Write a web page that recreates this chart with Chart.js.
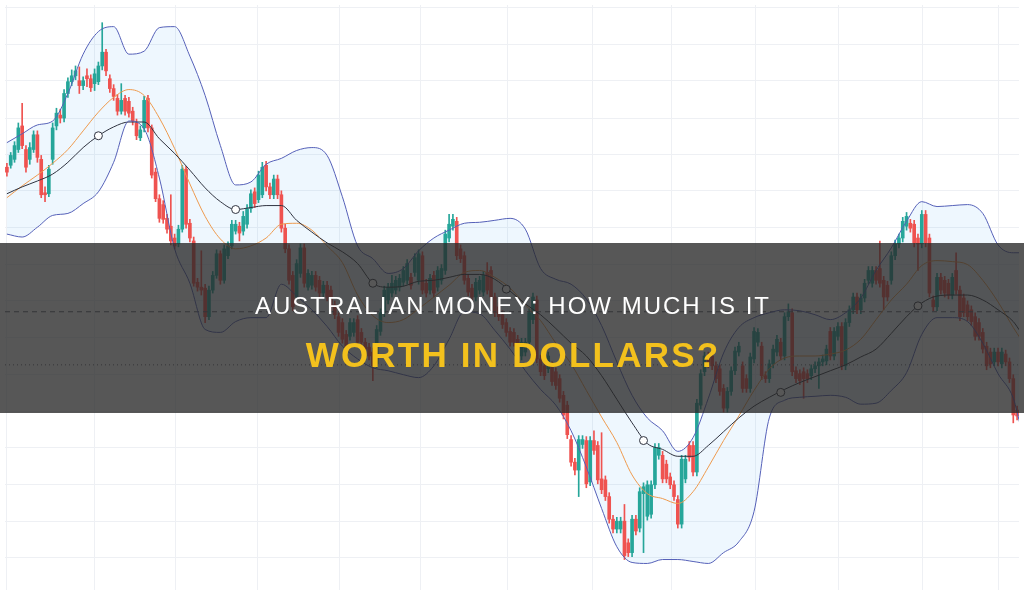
<!DOCTYPE html>
<html>
<head>
<meta charset="utf-8">
<script src="https://cdn.jsdelivr.net/npm/chart.js@4.4.1/dist/chart.umd.min.js"></script>
<style>
html,body{margin:0;padding:0;background:#fff;overflow:hidden}
#wrap{position:relative;width:1024px;height:595px}
#c{display:block}
#banner{position:absolute;left:0;top:243px;width:1024px;height:170px;background:rgba(40,40,40,0.78)}
.t{position:absolute;left:0;width:1024px;text-align:center;white-space:nowrap;font-family:"Liberation Sans",Arial,sans-serif}
#t1{top:294px;font-size:24px;line-height:24px;color:#ffffff;letter-spacing:2px;padding-left:2px;box-sizing:border-box}
#t2{top:337px;font-size:35px;line-height:35px;color:#f3c11d;font-weight:bold;letter-spacing:2.2px;padding-left:2px;box-sizing:border-box}
</style>
</head>
<body>
<div id="wrap">
<canvas id="c" width="1024" height="595"></canvas>
<div id="banner"></div>
<div class="t" id="t1">AUSTRALIAN MONEY: HOW MUCH IS IT</div>
<div class="t" id="t2">WORTH IN DOLLARS?</div>
</div>
<script>
// AUD/USD quotes in pips (x 10000), one candle per session
const open = [
7435,7437,7443,7453,7477,7453,7443,7453,7468,7443,
7409,7408,7443,7477,7488,7485,7510,7522,7528,7523,
7518,7528,7525,7520,7522,7538,7552,7525,7515,7505,
7492,7505,7502,7492,7480,7465,7475,7505,7475,7430,
7403,7397,7383,7375,7363,7357,7372,7433,7378,7360,
7318,7313,7312,7283,7310,7325,7347,7320,7345,7355,
7370,7375,7370,7377,7393,7410,7402,7407,7437,7415,
7407,7423,7407,7373,7352,7325,7303,7327,7353,7313,
7315,7325,7320,7307,7315,7310,7295,7283,7277,7265,
7263,7267,7280,7267,7257,7252,7247,7235,7268,7287,
7300,7307,7310,7313,7318,7320,7323,7328,7320,7345,
7317,7310,7325,7313,7320,7330,7363,7375,7380,7352,
7345,7322,7312,7303,7310,7308,7328,7330,7303,7293,
7285,7277,7268,7267,7260,7243,7247,7257,7280,7300,
7240,7233,7230,7233,7227,7220,7203,7193,7158,7135,
7127,7153,7157,7115,7157,7152,7118,7117,7100,7077,
7067,7067,7075,7053,7043,7077,7068,7103,7080,7082,
7112,7142,7142,7133,7120,7112,7097,7072,7118,7152,
7152,7125,7193,7227,7243,7243,7233,7230,7210,7190,
7207,7228,7247,7233,7220,7210,7240,7257,7253,7223,
7220,7235,7247,7257,7243,7283,7287,7228,7225,7227,
7225,7223,7230,7233,7237,7238,7268,7243,7263,7273,
7233,7277,7290,7303,7290,7302,7320,7317,7330,7332,
7320,7315,7320,7345,7357,7363,7375,7378,7377,7363,
7357,7387,7363,7300,7293,7323,7320,7317,7305,7330,
7310,7302,7295,7290,7283,7277,7267,7253,7247,7237,
7247,7235,7245,7237,7220,7188];
const high = [
7439,7450,7461,7480,7500,7457,7460,7472,7472,7447,
7415,7437,7480,7495,7494,7514,7526,7534,7538,7537,
7527,7535,7529,7535,7542,7582,7555,7529,7519,7509,
7520,7508,7506,7496,7484,7477,7507,7508,7478,7434,
7407,7401,7387,7407,7367,7376,7437,7436,7382,7364,
7322,7350,7316,7314,7329,7351,7350,7356,7359,7381,
7381,7379,7390,7397,7412,7414,7431,7440,7441,7419,
7427,7427,7411,7377,7356,7329,7341,7357,7357,7331,
7329,7329,7324,7319,7319,7314,7299,7287,7281,7269,
7281,7281,7284,7271,7261,7256,7251,7274,7291,7314,
7317,7325,7324,7326,7334,7341,7327,7347,7351,7349,
7321,7326,7329,7334,7336,7371,7387,7387,7384,7356,
7349,7326,7316,7322,7324,7329,7338,7334,7307,7297,
7289,7281,7272,7271,7264,7261,7261,7291,7307,7304,
7244,7237,7247,7237,7231,7224,7207,7197,7162,7139,
7162,7162,7161,7161,7167,7156,7165,7121,7104,7081,
7079,7079,7092,7057,7081,7081,7109,7114,7116,7116,
7154,7154,7146,7137,7124,7116,7101,7142,7142,7156,
7156,7199,7229,7247,7247,7247,7237,7234,7214,7211,
7232,7252,7257,7237,7224,7246,7272,7271,7257,7227,
7239,7254,7264,7261,7287,7296,7291,7232,7229,7231,
7229,7234,7237,7241,7244,7254,7272,7272,7277,7277,
7281,7294,7307,7307,7306,7321,7334,7334,7334,7360,
7324,7319,7349,7361,7367,7384,7389,7382,7381,7367,
7391,7391,7367,7304,7327,7327,7324,7321,7327,7348,
7314,7306,7299,7294,7287,7281,7271,7257,7251,7251,
7251,7251,7249,7241,7224,7192];
const low = [
7426,7434,7440,7450,7454,7430,7438,7450,7440,7404,
7400,7405,7438,7473,7480,7481,7506,7518,7524,7510,
7514,7517,7512,7513,7519,7534,7528,7511,7503,7488,
7489,7488,7486,7478,7463,7462,7471,7471,7424,7400,
7379,7378,7368,7356,7352,7354,7369,7373,7359,7314,
7309,7305,7277,7280,7307,7322,7316,7317,7342,7352,
7367,7360,7366,7373,7389,7394,7399,7404,7411,7403,
7403,7403,7369,7348,7316,7289,7300,7323,7313,7310,
7311,7309,7303,7303,7299,7289,7281,7263,7256,7246,
7259,7263,7253,7253,7246,7239,7218,7231,7264,7283,
7296,7303,7306,7309,7314,7316,7311,7324,7316,7306,
7303,7306,7303,7309,7316,7326,7359,7371,7341,7338,
7316,7304,7299,7299,7306,7304,7306,7299,7283,7279,
7271,7263,7253,7253,7248,7239,7243,7253,7276,7236,
7223,7219,7226,7213,7209,7196,7179,7159,7131,7122,
7100,7149,7109,7111,7143,7113,7103,7096,7073,7063,
7063,7063,7036,7039,7039,7061,7064,7043,7076,7078,
7108,7138,7114,7114,7108,7096,7068,7068,7114,7136,
7121,7121,7189,7223,7231,7229,7216,7203,7186,7186,
7203,7224,7243,7206,7206,7206,7236,7253,7219,7216,
7216,7231,7243,7239,7239,7279,7223,7216,7214,7200,
7216,7219,7226,7210,7233,7234,7239,7239,7259,7229,
7229,7273,7286,7286,7286,7298,7316,7313,7316,7313,
7290,7299,7316,7341,7353,7359,7371,7369,7354,7330,
7353,7354,7303,7289,7289,7306,7303,7301,7301,7306,
7279,7283,7279,7274,7259,7259,7246,7229,7231,7233,
7233,7231,7233,7216,7175,7178];
const close = [
7430,7447,7457,7475,7457,7435,7455,7468,7445,7407,
7407,7433,7475,7490,7485,7510,7522,7528,7533,7518,
7523,7525,7516,7530,7538,7552,7533,7515,7507,7492,
7503,7492,7490,7482,7467,7473,7503,7475,7427,7403,
7383,7382,7372,7360,7355,7372,7433,7377,7363,7317,
7313,7310,7283,7310,7325,7347,7320,7352,7355,7377,
7377,7368,7385,7393,7408,7398,7427,7435,7415,7407,
7423,7407,7373,7352,7320,7293,7337,7353,7317,7327,
7325,7313,7307,7315,7303,7293,7285,7267,7260,7250,
7277,7277,7257,7257,7250,7243,7233,7270,7287,7310,
7313,7317,7320,7322,7330,7337,7315,7343,7347,7310,
7307,7322,7307,7330,7332,7367,7377,7382,7345,7342,
7320,7308,7303,7318,7320,7325,7310,7303,7287,7283,
7275,7267,7257,7257,7252,7257,7257,7287,7303,7240,
7227,7223,7243,7217,7213,7200,7183,7163,7135,7127,
7158,7158,7113,7157,7147,7117,7107,7100,7077,7067,
7075,7075,7040,7043,7077,7065,7105,7110,7112,7112,
7150,7150,7118,7118,7112,7100,7072,7138,7138,7140,
7125,7195,7225,7243,7235,7233,7220,7207,7190,7207,
7228,7248,7253,7210,7210,7242,7268,7267,7223,7220,
7235,7250,7260,7243,7283,7288,7227,7220,7218,7220,
7220,7230,7233,7237,7240,7250,7243,7268,7273,7233,
7277,7290,7303,7290,7302,7317,7330,7330,7320,7317,
7303,7303,7345,7357,7363,7380,7385,7373,7358,7357,
7387,7358,7307,7293,7323,7310,7307,7305,7323,7310,
7283,7287,7283,7278,7263,7263,7250,7233,7235,7247,
7237,7247,7237,7220,7183,7182];

// indicator samples (candle index positions)
const bandX = [0,4,8,12,16,20,24,28,32,36,40,44,48,52,56,60,64,68,72,76,80,84,88,92,96,100,104,108,112,116,120,124,128,132,136,140,144,148,152,156,160,164,168,172,176,180,184,188,192,196,200,204,208,212,216,220,224,228,232,236,240,244,248,252,256,260,264,266];
const upperBand = [7460,7469,7478,7482,7510,7550,7573,7578,7550,7553,7577,7578,7548,7508,7457,7417,7420,7438,7444,7452,7455,7447,7405,7355,7342,7327,7332,7350,7363,7371,7378,7379,7381,7383,7372,7332,7321,7316,7301,7274,7237,7203,7180,7167,7146,7160,7200,7246,7272,7282,7287,7290,7289,7285,7280,7287,7302,7330,7353,7380,7400,7395,7396,7397,7388,7356,7348,7348];
const lowerBand = [7367,7364,7374,7386,7388,7398,7410,7440,7482,7474,7424,7352,7317,7270,7267,7278,7282,7282,7316,7304,7290,7273,7253,7240,7231,7228,7224,7221,7233,7260,7288,7286,7269,7250,7228,7209,7193,7167,7130,7088,7049,7033,7032,7036,7036,7034,7032,7043,7054,7085,7180,7198,7201,7202,7203,7201,7194,7195,7208,7226,7265,7282,7282,7278,7256,7225,7200,7170];
const middleLine = [7408,7415,7421,7428,7440,7455,7467,7476,7481,7481,7464,7449,7432,7414,7400,7392,7394,7396,7396,7381,7369,7358,7349,7337,7317,7313,7314,7319,7320,7323,7326,7326,7321,7309,7296,7285,7271,7256,7243,7223,7199,7175,7154,7148,7141,7141,7152,7166,7180,7192,7201,7209,7216,7222,7228,7234,7242,7250,7266,7283,7297,7304,7305,7305,7300,7290,7278,7267];
const emaLine = [7404,7416,7427,7439,7453,7472,7491,7506,7514,7508,7485,7454,7418,7385,7362,7352,7355,7363,7377,7378,7371,7355,7338,7305,7284,7277,7280,7291,7303,7315,7328,7330,7323,7312,7295,7279,7256,7235,7208,7181,7155,7122,7103,7098,7093,7105,7130,7157,7182,7208,7230,7241,7243,7243,7245,7249,7260,7280,7300,7316,7335,7340,7339,7336,7320,7298,7272,7260];
const markerX = [24,60,96,131,167,203,239];
const markerY = [7467,7392,7317,7311,7157,7206,7294];
const priceLines = [7288,7234];

// grid positions
const gridX = [0,22.9,44.2,65.7,87.3,108.6,131.2,153.5,174.3,196.4,218.2,240.3,260];
const gridY = [7597,7560,7523,7485,7448,7411,7374,7336,7299,7262,7224,7187,7150,7112,7075,7038];

const UP = '#26a69a', DOWN = '#ef5350';
const cols = open.map((o,i) => close[i] >= o ? UP : DOWN);
const wickData = open.map((o,i) => ({x:i, y:[low[i], high[i]]}));
const bodyData = open.map((o,i) => ({x:i, y:[o, close[i]]}));
const pts = arr => bandX.map((x,k) => ({x, y:arr[k]}));

const lineBase = {type:'line', pointRadius:0, borderWidth:1, cubicInterpolationMode:'monotone', order:1};

new Chart(document.getElementById('c'), {
  type: 'bar',
  data: {
    datasets: [
      Object.assign({}, lineBase, {label:'Upper', data:pts(upperBand), borderColor:'#5560b8', fill:'+1', backgroundColor:'rgba(33,150,243,0.08)'}),
      Object.assign({}, lineBase, {label:'Lower', data:pts(lowerBand), borderColor:'#5560b8', fill:false}),
      Object.assign({}, lineBase, {label:'Basis', data:pts(middleLine), borderColor:'#2f3340', fill:false}),
      Object.assign({}, lineBase, {label:'EMA', data:pts(emaLine), borderColor:'#ee9a4d', fill:false}),
      {type:'line', label:'Markers', data: markerX.map((x,k)=>({x, y:markerY[k]})), showLine:false,
       pointRadius:4, pointBackgroundColor:'#ffffff', pointBorderColor:'#2f3340', pointBorderWidth:1, order:0},
      {type:'line', label:'Price 1', data:[{x:-0.5,y:priceLines[0]},{x:265.5,y:priceLines[0]}], borderColor:'#5d6070', borderWidth:1, borderDash:[5,4], pointRadius:0, fill:false, order:1},
      {type:'line', label:'Price 2', data:[{x:-0.5,y:priceLines[1]},{x:265.5,y:priceLines[1]}], borderColor:'#5d6070', borderWidth:1, borderDash:[1,3], pointRadius:0, fill:false, order:1},
      {type:'bar', label:'Wick', data:wickData, backgroundColor:cols, barThickness:1, grouped:false, borderWidth:0, order:2},
      {type:'bar', label:'Body', data:bodyData, backgroundColor:cols, barThickness:3, grouped:false, borderWidth:0, minBarLength:1, order:2}
    ]
  },
  options: {
    responsive:false,
    animation:false,
    events:[],
    layout:{padding:0},
    plugins:{legend:{display:false}, tooltip:{enabled:false}, filler:{drawTime:'beforeDatasetsDraw'}},
    scales:{
      x:{type:'linear', min:-0.5, max:265.5, offset:false, bounds:'data',
         ticks:{display:false}, border:{display:false},
         grid:{color:'#eef0f4', drawTicks:false, offset:false, tickLength:0},
         afterBuildTicks: s => { s.ticks = gridX.map(v => ({value:v})); }},
      y:{type:'linear', min:7005, max:7600, beginAtZero:false,
         ticks:{display:false}, border:{display:false},
         grid:{color:'#eef0f4', drawTicks:false, tickLength:0},
         afterBuildTicks: s => { s.ticks = gridY.map(v => ({value:v})); }}
    }
  }
});
</script>
</body>
</html>
